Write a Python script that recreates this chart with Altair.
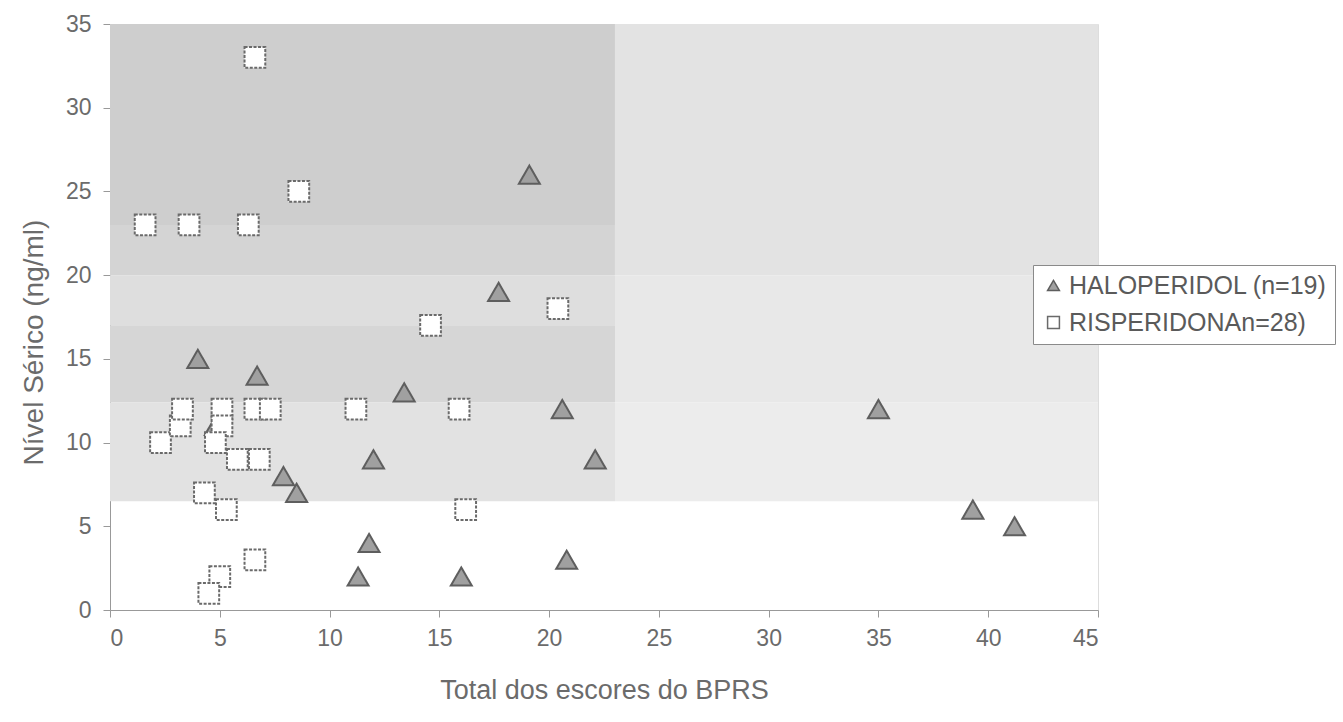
import altair as alt
import pandas as pd

# ---- data ----
halo_x = [4.8, 4.0, 6.7, 7.9, 8.5, 11.3, 11.8, 12.0, 13.4, 16.0, 17.7, 19.1, 20.6, 20.8, 22.1, 35.0, 39.3, 41.2]
halo_y = [11, 15, 14, 8, 7, 2, 4, 9, 13, 2, 19, 26, 12, 3, 9, 12, 6, 5]

risp_x = [1.6, 3.6, 6.3, 8.6, 6.6, 14.6, 2.3, 3.2, 3.3, 5.1, 5.1, 4.8, 5.8, 6.8, 6.6, 7.3,
          4.3, 5.3, 6.6, 5.0, 4.5, 11.2, 20.4, 15.9, 16.2]
risp_y = [23, 23, 23, 25, 33, 17, 10, 11, 12, 12, 11, 10, 9, 9, 12, 12,
          7, 6, 3, 2, 1, 12, 18, 12, 6]

groups = ["HALOPERIDOL (n=19)", "RISPERIDONAn=28)"]

# background bands (x0, x1, y0, y1, level)
band_x0 = [0, 0, 0, 0, 0, 23, 23, 23]
band_x1 = [23, 23, 23, 23, 23, 45, 45, 45]
band_y0 = [23, 20, 17, 12.4, 6.5, 20, 12.4, 6.5]
band_y1 = [35, 23, 20, 17, 12.4, 35, 20, 12.4]
band_lv = ["a", "b", "c", "d", "e", "f", "g", "h"]
band_colors = ["#cecece", "#d4d4d4", "#dedede", "#d6d6d6", "#e2e2e2", "#e3e3e3", "#e8e8e8", "#ececec"]

halo = pd.DataFrame({"x": halo_x, "y": halo_y, "g": groups[0]})
risp = pd.DataFrame({"x": risp_x, "y": risp_y, "g": groups[1]})
bands = pd.DataFrame({"x0": band_x0, "x1": band_x1, "y0": band_y0, "y1": band_y1, "lv": band_lv})

FONT = "Liberation Sans"
TXT = "#6b6b6b"

xscale = alt.Scale(domain=[0, 45], nice=False, zero=False)
yscale = alt.Scale(domain=[0, 35], nice=False, zero=False)

xaxis = alt.Axis(values=list(range(0, 46, 5)), title="Total dos escores do BPRS",
                 labelFontSize=23, titleFontSize=27, labelColor=TXT, titleColor=TXT,
                 labelFont=FONT, titleFont=FONT, titleFontWeight="normal",
                 tickSize=7, labelPadding=10, titlePadding=27, grid=False,
                 domainColor="#999999", tickColor="#999999")
yaxis = alt.Axis(values=list(range(0, 36, 5)), title="Nível Sérico (ng/ml)",
                 labelFontSize=23, titleFontSize=28, labelColor=TXT, titleColor=TXT,
                 labelFont=FONT, titleFont=FONT, titleFontWeight="normal",
                 tickSize=7, labelPadding=12, titlePadding=17, titleY=318, grid=False,
                 domainColor="#999999", tickColor="#999999")

bg = alt.Chart(bands).mark_rect().encode(
    x=alt.X("x0:Q", scale=xscale, axis=xaxis),
    x2="x1:Q",
    y=alt.Y("y0:Q", scale=yscale, axis=yaxis),
    y2="y1:Q",
    color=alt.Color("lv:N", scale=alt.Scale(domain=band_lv, range=band_colors), legend=None),
)

legend = alt.Legend(title=None, orient="none", legendX=923, legendY=241,
                    labelFontSize=25, labelFont=FONT, labelColor="#5a5a5a",
                    symbolSize=140, symbolStrokeWidth=1.5, rowPadding=11,
                    padding=8, strokeColor="#8a8a8a", fillColor="white",
                    labelLimit=400, labelOffset=3)

shape_s = alt.Scale(domain=groups, range=["triangle-up", "square"])
fill_s = alt.Scale(domain=groups, range=["#a0a0a0", "#ffffff"])
stroke_s = alt.Scale(domain=groups, range=["#5e5e5e", "#6a6a6a"])


def layer(df, size, dash):
    return alt.Chart(df).mark_point(filled=False, opacity=1, strokeWidth=2, size=size,
                                    strokeDash=dash).encode(
        x=alt.X("x:Q", scale=xscale),
        y=alt.Y("y:Q", scale=yscale),
        shape=alt.Shape("g:N", scale=shape_s, legend=legend),
        fill=alt.Fill("g:N", scale=fill_s, legend=legend),
        stroke=alt.Stroke("g:N", scale=stroke_s, legend=legend),
    )


tri = layer(halo, 440, [1, 0])
sq = layer(risp, 430, [3, 1.5])

chart = alt.layer(bg, tri, sq).properties(
    width=988, height=586,
    autosize=alt.AutoSizeParams(type="none"),
    padding={"left": 110, "top": 24, "right": 245, "bottom": 112},
).configure_view(stroke=None).configure(background="white")

chart.save("out.html", embed_options={"renderer": "svg", "actions": False})
